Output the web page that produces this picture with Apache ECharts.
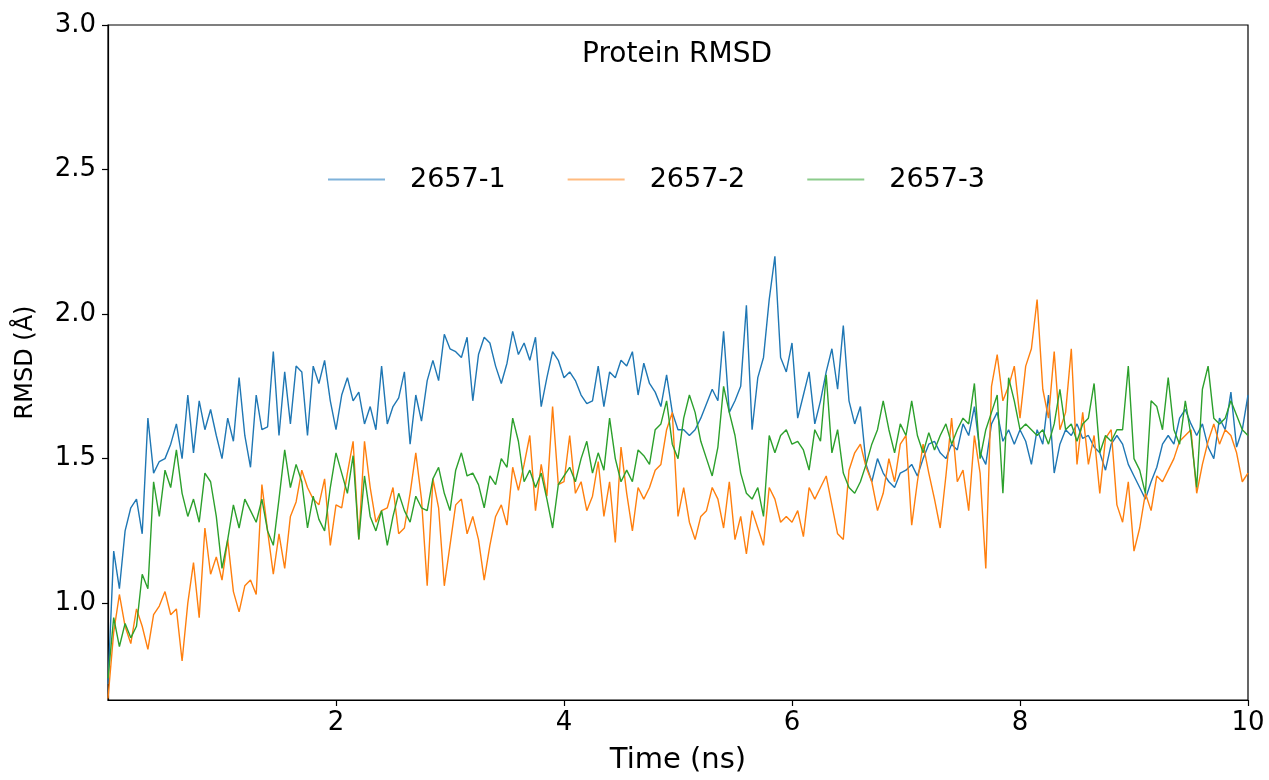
<!DOCTYPE html>
<html>
<head>
<meta charset="utf-8">
<script src="https://cdn.jsdelivr.net/npm/echarts@6.0.0/dist/echarts.min.js"></script>
<style>
html,body{margin:0;padding:0;background:#fff;}
#chart{width:1269px;height:780px;}
</style>
</head>
<body>
<div id="chart"></div>
<script>
const seriesNames = ['2657-1', '2657-2', '2657-3'];
const timeStep = 0.05; // ns between samples
const xTicks = [2, 4, 6, 8, 10];
const yTicks = [1.0, 1.5, 2.0, 2.5, 3.0];

const rmsd1 = [
0.72,1.18,1.05,1.25,1.33,1.36,1.24,1.64,1.45,1.49,1.5,1.55,1.62,1.5,1.72,1.52,1.70,1.6,1.67,1.58,1.5,1.64,1.56,1.78,1.58,1.47,1.72,1.6,1.61,1.87,1.58,1.8,1.62,1.82,
1.8,1.58,1.82,1.76,1.84,1.7,1.6,1.72,1.78,1.7,1.73,1.62,1.68,1.6,1.82,1.62,1.68,1.71,1.8,1.55,1.72,1.63,1.77,1.84,1.77,1.93,1.88,1.87,1.85,1.92,1.7,1.86,1.92,
1.9,1.82,1.76,1.83,1.94,1.86,1.9,1.84,1.92,1.68,1.78,1.87,1.84,1.78,1.8,1.77,1.72,1.69,1.7,1.82,1.68,1.8,1.78,1.84,1.82,1.87,1.72,1.83,1.76,1.73,1.68,1.79,1.66,1.6,
1.6,1.58,1.6,1.64,1.69,1.74,1.7,1.94,1.66,1.7,1.75,2.03,1.6,1.78,1.85,2.05,2.2,1.85,1.8,1.9,1.64,1.72,1.8,1.62,1.7,1.8,1.88,1.74,1.96,1.7,1.62,1.68,1.48,
1.42,1.5,1.45,1.42,1.4,1.45,1.46,1.48,1.44,1.5,1.55,1.56,1.52,1.5,1.55,1.53,1.62,1.58,1.68,1.52,1.48,1.62,1.66,1.56,1.6,1.55,1.6,1.56,1.48,1.6,1.55,1.72,1.45,
1.55,1.6,1.58,1.62,1.57,1.58,1.54,1.52,1.46,1.55,1.58,1.55,1.48,1.44,1.4,1.36,1.42,1.47,1.55,1.58,1.55,1.64,1.67,1.62,1.58,1.62,1.54,1.5,1.64,1.6,1.73,1.54,1.6,1.72
];
const rmsd2 = [
0.67,0.9,1.03,0.92,0.86,0.98,0.92,0.84,0.96,0.99,1.04,0.96,0.98,0.8,1.0,1.14,0.95,1.26,1.1,1.16,1.08,1.22,1.04,0.97,1.06,1.08,1.03,1.41,1.25,1.1,1.24,1.12,1.3,1.35,
1.46,1.4,1.36,1.34,1.43,1.2,1.34,1.33,1.45,1.56,1.22,1.56,1.4,1.28,1.32,1.33,1.4,1.24,1.26,1.38,1.52,1.36,1.06,1.43,1.33,1.06,1.2,1.34,1.36,1.24,1.3,1.22,1.08,
1.2,1.3,1.34,1.27,1.47,1.39,1.48,1.58,1.32,1.48,1.37,1.68,1.41,1.42,1.58,1.38,1.42,1.32,1.37,1.49,1.3,1.42,1.21,1.54,1.38,1.25,1.4,1.36,1.4,1.46,1.48,1.6,1.66,1.3,
1.4,1.28,1.22,1.3,1.32,1.4,1.36,1.26,1.42,1.22,1.3,1.17,1.32,1.26,1.2,1.4,1.36,1.28,1.3,1.28,1.32,1.23,1.4,1.36,1.4,1.44,1.34,1.24,1.22,1.46,1.52,1.55,1.47,
1.42,1.32,1.38,1.5,1.42,1.55,1.58,1.27,1.42,1.55,1.45,1.36,1.26,1.44,1.64,1.42,1.46,1.32,1.58,1.45,1.12,1.75,1.86,1.7,1.75,1.82,1.64,1.82,1.88,2.05,1.74,1.64,1.87,
1.6,1.66,1.88,1.48,1.66,1.48,1.58,1.38,1.57,1.6,1.34,1.28,1.42,1.18,1.26,1.38,1.32,1.44,1.42,1.46,1.5,1.56,1.58,1.6,1.38,1.48,1.56,1.62,1.55,1.6,1.58,1.52,1.42,1.45
];
const rmsd3 = [
0.74,0.95,0.85,0.93,0.88,0.92,1.1,1.05,1.42,1.3,1.46,1.4,1.53,1.38,1.3,1.36,1.28,1.45,1.42,1.3,1.12,1.22,1.34,1.26,1.36,1.32,1.28,1.36,1.25,1.2,1.36,1.53,1.4,1.48,
1.42,1.26,1.37,1.29,1.25,1.4,1.52,1.45,1.38,1.51,1.22,1.44,1.3,1.25,1.32,1.2,1.3,1.38,1.32,1.28,1.37,1.33,1.32,1.43,1.47,1.38,1.32,1.46,1.52,1.44,1.45,1.41,1.33,
1.44,1.41,1.5,1.47,1.64,1.56,1.42,1.46,1.4,1.45,1.36,1.26,1.41,1.44,1.47,1.42,1.5,1.56,1.45,1.52,1.46,1.64,1.5,1.42,1.46,1.42,1.53,1.51,1.48,1.6,1.62,1.7,1.55,1.5,
1.64,1.72,1.66,1.56,1.5,1.44,1.54,1.75,1.66,1.58,1.45,1.38,1.36,1.4,1.3,1.58,1.52,1.58,1.6,1.55,1.56,1.53,1.46,1.6,1.56,1.79,1.52,1.6,1.45,1.4,1.38,1.42,1.48,
1.55,1.6,1.7,1.6,1.52,1.62,1.58,1.7,1.58,1.52,1.59,1.53,1.58,1.62,1.55,1.6,1.64,1.62,1.76,1.5,1.6,1.66,1.72,1.38,1.78,1.7,1.6,1.62,1.6,1.58,1.6,1.55,1.62,
1.74,1.6,1.62,1.56,1.62,1.64,1.76,1.52,1.58,1.56,1.6,1.6,1.82,1.5,1.46,1.38,1.7,1.68,1.6,1.78,1.6,1.55,1.7,1.58,1.4,1.74,1.82,1.64,1.62,1.64,1.7,1.65,1.6,1.58
];

const colors = ['#1f77b4', '#ff7f0e', '#2ca02c'];
const legendColors = ['#7fb2da', '#ffbb80', '#8ccc8c'];
const allSeries = [rmsd1, rmsd2, rmsd3];

function pairs(arr) {
  return arr.map((v, i) => [+(i * timeStep).toFixed(2), v]);
}

const chart = echarts.init(document.getElementById('chart'), null, {renderer: 'canvas'});
const font = 'DejaVu Sans';
chart.setOption({
  animation: false,
  backgroundColor: '#ffffff',
  title: {
    text: 'Protein RMSD',
    left: 582,
    top: 41,
    padding: 0,
    textStyle: {fontFamily: font, fontSize: 28, fontWeight: 'normal', color: '#000'}
  },
  legend: {
    left: 328,
    top: 166,
    padding: 0,
    icon: 'rect',
    itemWidth: 57,
    itemHeight: 2,
    itemGap: 62,
    textStyle: {fontFamily: font, fontSize: 27, color: '#000', padding: [0, 0, 0, 20]},
    data: seriesNames.map((n, i) => ({name: n, itemStyle: {color: legendColors[i]}}))
  },
  grid: {
    left: 108, right: 21, top: 25, bottom: 78,
    show: true, borderColor: '#000', borderWidth: 1.2, backgroundColor: 'transparent'
  },
  xAxis: {
    type: 'value',
    min: 0, max: 10,
    name: 'Time (ns)',
    nameLocation: 'middle',
    nameGap: 46,
    nameTextStyle: {fontFamily: font, fontSize: 29, color: '#000'},
    axisLine: {show: true, onZero: false, lineStyle: {color: '#000', width: 1.2}},
    axisTick: {show: true, length: 6, lineStyle: {color: '#000', width: 1.2}, customValues: xTicks},
    axisLabel: {fontFamily: font, fontSize: 26, color: '#000', margin: 10, customValues: xTicks},
    splitLine: {show: false}
  },
  yAxis: {
    type: 'value',
    min: 0.665, max: 3.0,
    name: 'RMSD (Å)',
    nameLocation: 'middle',
    nameGap: 70,
    nameTextStyle: {fontFamily: font, fontSize: 24, color: '#000'},
    axisLine: {show: true, onZero: false, lineStyle: {color: '#000', width: 1.2}},
    axisTick: {show: true, length: 6, lineStyle: {color: '#000', width: 1.2}, customValues: yTicks},
    axisLabel: {fontFamily: font, fontSize: 26, color: '#000', margin: 12, customValues: yTicks,
      formatter: v => v.toFixed(1)},
    splitLine: {show: false}
  },
  series: allSeries.map((arr, i) => ({
    name: seriesNames[i],
    type: 'line',
    data: pairs(arr),
    symbol: 'none',
    showSymbol: false,
    lineStyle: {color: colors[i], width: 1.4},
    itemStyle: {color: colors[i]},
    z: 2 + i
  }))
});
</script>
</body>
</html>
